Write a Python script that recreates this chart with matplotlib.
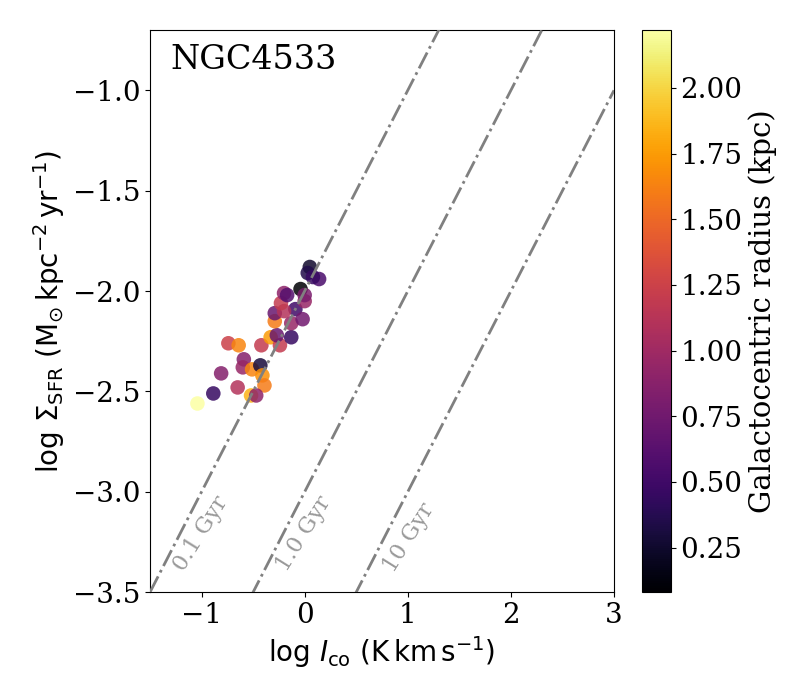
import matplotlib
matplotlib.use('Agg')
import matplotlib.pyplot as plt
import numpy as np

plt.rcParams['font.family'] = 'DejaVu Serif'
plt.rcParams['mathtext.fontset'] = 'dejavusans'

# log Ico, log Sigma_SFR, galactocentric radius (kpc)
log_ico = [-1.04, -0.886, -0.81, -0.74, -0.64, -0.65, -0.59, -0.60, -0.51, -0.43,
           -0.41, -0.39, -0.52, -0.47, -0.42, -0.33, -0.24, -0.27, -0.13, -0.29,
           -0.29, -0.13, -0.09, -0.02, -0.20, -0.23, -0.20, -0.17, -0.04, 0.00,
           0.00, 0.05, 0.03, 0.14, 0.08]
log_sfr = [-2.56, -2.51, -2.41, -2.26, -2.27, -2.48, -2.34, -2.38, -2.39, -2.37,
           -2.42, -2.47, -2.52, -2.52, -2.27, -2.23, -2.27, -2.22, -2.23, -2.15,
           -2.11, -2.16, -2.09, -2.14, -2.10, -2.06, -2.01, -2.02, -1.99, -2.05,
           -2.02, -1.88, -1.91, -1.94, -1.93]
radius = [2.22, 0.45, 0.85, 1.25, 1.65, 1.1, 0.85, 0.95, 1.65, 0.3,
          1.7, 1.6, 1.85, 0.9, 1.2, 1.75, 1.2, 0.7, 0.45, 1.6,
          0.7, 0.95, 0.5, 0.75, 1.1, 1.2, 0.9, 0.6, 0.08, 0.95,
          0.8, 0.25, 0.35, 0.55, 0.45]

dep_labels = ['0.1 Gyr', '1.0 Gyr', '10 Gyr']
dep_offsets = [-2, -3, -4]
lab_pos = [(-1.01, -3.21), (-0.01, -3.21), (1.01, -3.23)]

fig = plt.figure(figsize=(8, 7), dpi=100)
ax = fig.add_axes([0.1875, 0.154, 0.58, 0.803])
cax = fig.add_axes([0.8025, 0.154, 0.036, 0.803])

xx = np.array([-1.5, 3.0])
for off in dep_offsets:
    ax.plot(xx, xx + off, color='grey', ls='-.', lw=2, zorder=3)

sc = ax.scatter(log_ico, log_sfr, c=radius, cmap='inferno', s=110, alpha=0.85,
                edgecolors='none', zorder=2)

for (lx, ly), txt in zip(lab_pos, dep_labels):
    ax.text(lx, ly, txt, rotation=58, color='grey', alpha=0.8,
            fontsize=16, ha='center', va='center')

ax.text(0.043, 0.975, 'NGC4533', transform=ax.transAxes,
        fontsize=24, va='top', ha='left')

ax.set_xlim(-1.5, 3)
ax.set_ylim(-3.5, -0.7)
ax.set_xticks([-1, 0, 1, 2, 3])
ax.set_yticks([-3.5, -3.0, -2.5, -2.0, -1.5, -1.0])
ax.tick_params(labelsize=20)
ax.set_xlabel(r'log $I_{\rm co}$ ($\rm K\,km\,s^{-1}$)', fontsize=20,
              family='DejaVu Sans')
ax.set_ylabel(r'log $\Sigma_{\rm SFR}$ ($\rm M_{\odot}\,kpc^{-2}\,yr^{-1}$)',
              fontsize=20, family='DejaVu Sans')

cb = fig.colorbar(sc, cax=cax)
cb.solids.set_alpha(1)
cb.ax.tick_params(labelsize=20)
cb.set_label('Galactocentric radius (kpc)', fontsize=21)

fig.savefig('out.png', dpi=100)
